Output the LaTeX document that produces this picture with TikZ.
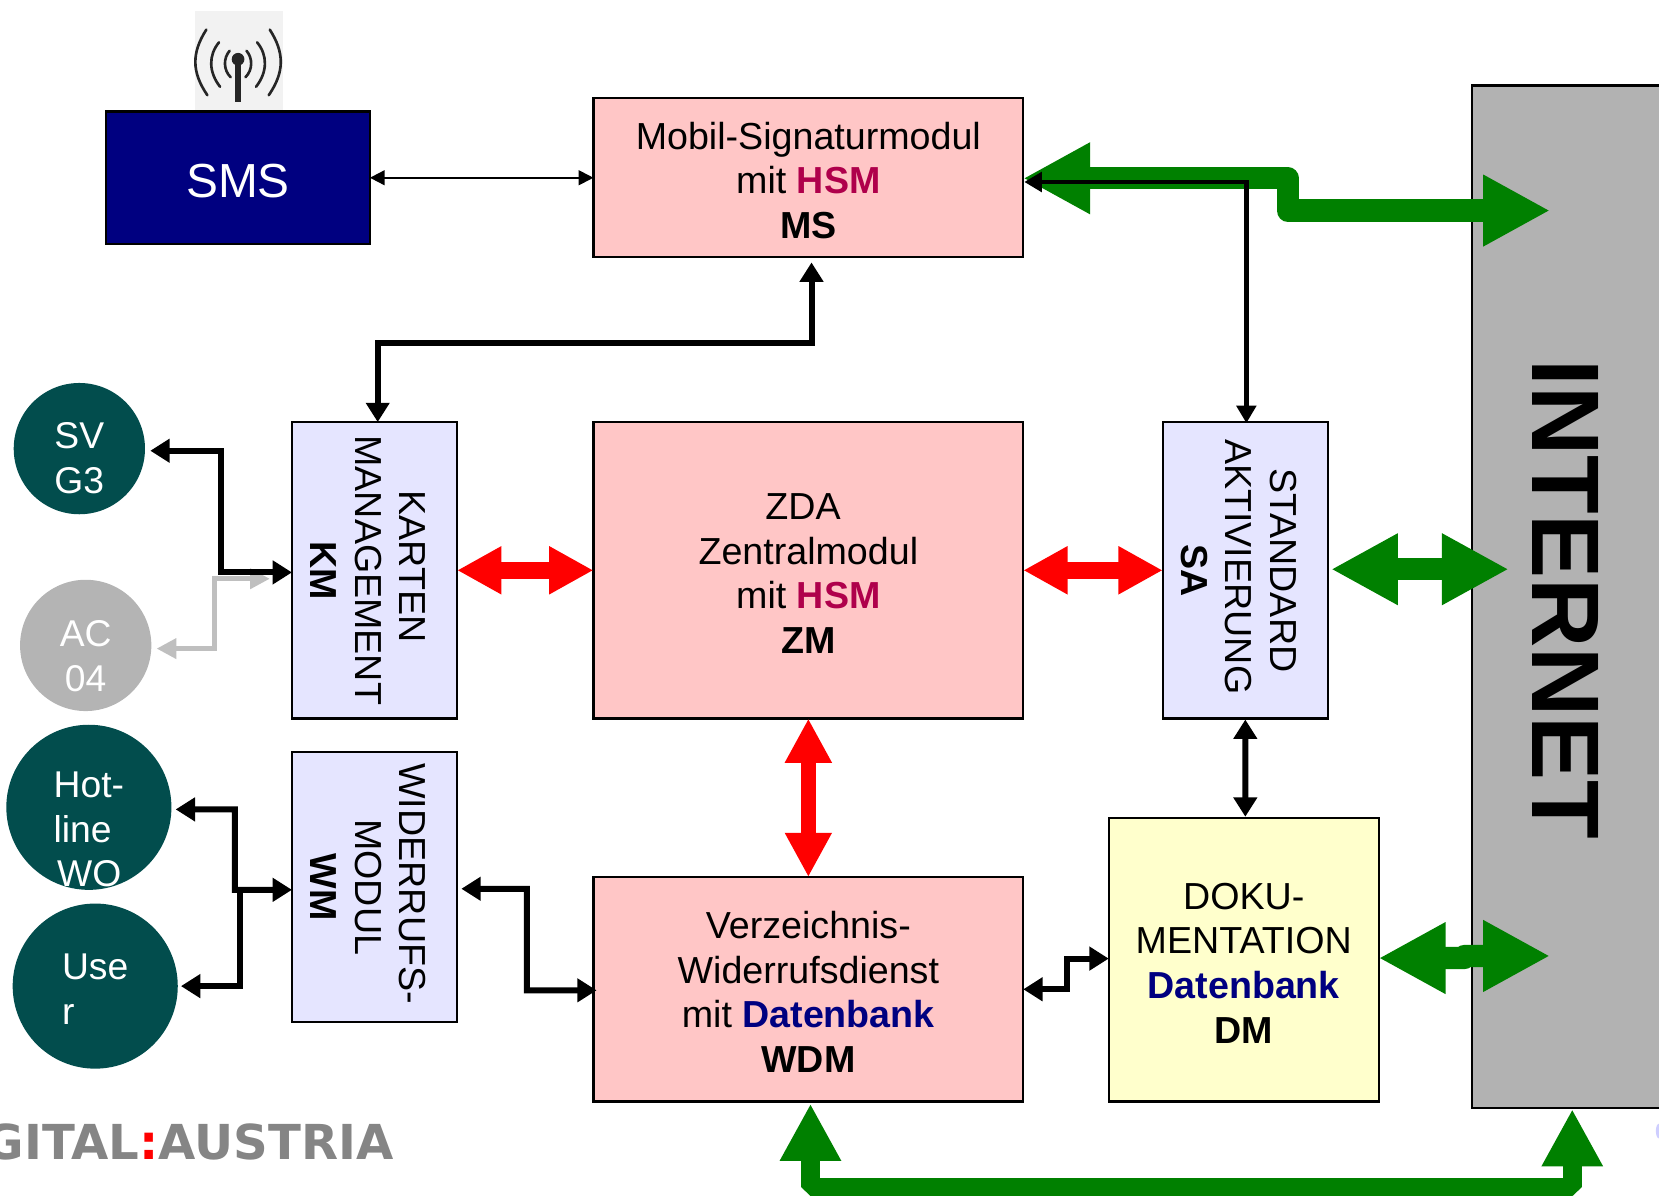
\documentclass[tikz,border=0pt]{standalone}
\usepackage{fontspec}
\setmainfont{Liberation Sans}
\newfontfamily\logofont{DejaVu Sans}
\usetikzlibrary{arrows.meta}
\definecolor{boxpink}{HTML}{FFC6C6}
\definecolor{boxlilac}{HTML}{E5E5FF}
\definecolor{boxyellow}{HTML}{FFFFCC}
\definecolor{smsblue}{HTML}{000080}
\definecolor{circteal}{HTML}{024D4D}
\definecolor{circgray}{HTML}{B4B4B4}
\definecolor{netgray}{HTML}{B2B2B2}
\definecolor{hsmred}{HTML}{AF004B}
\definecolor{arrowgreen}{HTML}{008000}
\definecolor{logogray}{HTML}{858585}
\newcommand{\flatgap}{\rule{0pt}{9.3pt}}
\newcommand{\sidegap}{\rule{0pt}{11.1pt}}
\tikzset{
	modbox/.style={draw=black,line width=0.65pt,outer sep=0pt,inner sep=0pt,align=center,font=\fontsize{10.7}{12.7}\selectfont},
	pinkbox/.style={modbox,fill=boxpink,minimum width=4.295cm},
	lilacbox/.style={modbox,fill=boxlilac,rotate=-90,minimum height=1.65cm},
	client/.style={circle,fill=circteal,inner sep=0pt,outer sep=0pt},
	clienttxt/.style={text=white,inner sep=0pt,font=\fontsize{10.6}{12.7}\selectfont},
	blackthin/.style={line width=0.55pt,{Triangle[length=4.2pt,width=4.2pt]}-{Triangle[length=4.2pt,width=4.2pt]}},
	blackmid/.style={line width=1.4pt,{Triangle[length=5pt,width=5.5pt]}-{Triangle[length=5pt,width=5.5pt]}},
	blackfat/.style={line width=1.7pt,{Triangle[length=5.5pt,width=6.5pt]}-{Triangle[length=5.5pt,width=6.5pt]}},
	blackone/.style={line width=1.7pt,{Triangle[length=5.5pt,width=6.5pt]}-},
	redfat/.style={draw=red,line width=5pt,{Triangle[length=12.6pt,width=12.8pt]}-{Triangle[length=12.6pt,width=12.8pt]}},
	redtall/.style={draw=red,line width=4.3pt,{Triangle[length=12.6pt,width=12.5pt]}-{Triangle[length=12.6pt,width=12.5pt]}},
	greenfat/.style={draw=arrowgreen,line width=6.3pt,line join=round,{Triangle[length=19pt,width=19pt]}-{Triangle[length=19pt,width=19pt]}},
	greenbus/.style={draw=arrowgreen,line width=5.3pt,line join=bevel,{Triangle[length=16.3pt,width=16.3pt]}-{Triangle[length=16.3pt,width=16.3pt]}},
	graythin/.style={draw=circgray!85!white,line width=1.3pt,{Triangle[length=5.6pt,width=5.6pt]}-{Triangle[length=5.6pt,width=5.6pt]}},
	antarc/.style={line width=0.75pt,draw=black!85,line cap=round}
}
\begin{document}
\begin{tikzpicture}[x=0.01058cm,y=-0.01058cm]
	\useasboundingbox (0,0) rectangle (1568,1131);
	% antenna
	\node[fill=black!5,minimum width=0.878cm,minimum height=1cm,inner sep=0pt] (antenna) at (225.5,57.5) {};
	\foreach \s in {-1,1} {
		\draw[antarc] (225+\s*30,28) .. controls (225+\s*44,50) and (225+\s*44,68) .. (225+\s*29,90);
		\draw[antarc] (225+\s*18,40) .. controls (225+\s*28,52) and (225+\s*28,68) .. (225+\s*17,82);
		\draw[antarc] (225+\s*8,48) .. controls (225+\s*14,55) and (225+\s*14,66) .. (225+\s*7,73);
	}
	\fill[black!85] (225,56) circle (6);
	\draw[line width=1.5pt,black!85] (225,56) -- (225,96);
	% modules
	\node[draw=black,line width=0.65pt,fill=smsblue,text=white,minimum width=2.635cm,minimum height=1.325cm,inner sep=0pt,outer sep=0pt,font=\fontsize{13.6}{16}\selectfont,execute at begin node={\rule{0pt}{11.5pt}}] (sms) at (225,168) {SMS};
	\node[pinkbox,minimum height=1.587cm] (ms) at (764,168) {\flatgap Mobil-Signaturmodul\\mit \textcolor{hsmred}{\textbf{HSM}}\\\textbf{MS}};
	\node[pinkbox,minimum height=2.962cm] (zm) at (764,539) {\flatgap ZDA~~\\Zentralmodul\\mit \textcolor{hsmred}{\textbf{HSM}}\\\textbf{ZM}};
	\node[pinkbox,minimum height=2.243cm] (wdm) at (764,935) {\flatgap Verzeichnis-\\Widerrufsdienst\\mit \textcolor{smsblue}{\textbf{Datenbank}}\\\textbf{WDM}};
	\node[lilacbox,minimum width=2.962cm] (km) at (354,539) {\sidegap KARTEN\kern2pt\\MANAGEMENT\\\textbf{KM}};
	\node[lilacbox,minimum width=2.698cm] (wm) at (354,838.5) {\sidegap WIDERRUFS-\kern2pt\\MODUL\\\textbf{WM}};
	\node[lilacbox,minimum width=2.962cm] (sa) at (1177,539) {\sidegap STANDARD\\AKTIVIERUNG\kern2pt\\\textbf{SA}};
	\node[modbox,fill=boxyellow,minimum width=2.698cm,minimum height=2.835cm] (dm) at (1175.5,907) {\flatgap DOKU-\\MENTATION\\\textcolor{smsblue}{\textbf{Datenbank}}\\\textbf{DM}};
	\node[draw=black,line width=0.65pt,fill=netgray,minimum width=2.4cm,minimum height=10.22cm,outer sep=0pt] (inet) at (1504.5,564) {};
	\node[rotate=-90,font=\fontsize{27.3}{30}\selectfont\bfseries] (inettext) at (1480,566.5) {INTERNET};
	% clients
	\node[client,minimum size=1.312cm] (sv) at (75,424) {};
	\node[client,fill=circgray,minimum size=1.312cm] (ac) at (81,610) {};
	\node[client,minimum size=1.65cm] (hot) at (84,763) {};
	\node[client,minimum size=1.65cm] (usr) at (90,932) {};
	\node[clienttxt,align=left] (svtxt) at (75,433) {SV\\G3};
	\node[clienttxt,align=center] (actxt) at (81,620) {AC\\04};
	\node[clienttxt,align=left] (hottxt) at (84,784) {Hot-\\line\\\kern1pt WO};
	\node[clienttxt,align=left] (usrtxt) at (90,935) {Use\\r};
	% logo
	\node[anchor=east,inner sep=0pt,font=\logofont\bfseries\fontsize{13.7}{16}\selectfont,text=logogray] (logo) at (372.5,1079.5) {GITAL\textcolor{red}{:}AUSTRIA};
	\fill[boxlilac!90!blue] (1568,1069) ellipse (3 and 7);
	% connectors
	\draw[greenfat] ([shift={(0,0.5)}]ms.east) -- (1217,168.5) -- (1217,199) -- (1465,199);
	\draw[greenfat] ([shift={(3,-1)}]sa.north) -- (1426,538);
	\draw[greenfat] ([shift={(0,-1.5)}]dm.east) -- (1384,905.5) -- (1384,903.5) -- (1465,903.5);
	\draw[greenbus] ([shift={(2,2)}]wdm.south) -- (766,1122) -- (1486,1122) -- ([shift={(-18.5,1)}]inet.south);
	\draw[redfat] (km.north) -- (zm.west);
	\draw[redfat] (zm.east) -- (sa.south);
	\draw[redtall] (zm.south) -- (wdm.north);
	\draw[blackthin] (sms) -- (ms);
	\draw[blackfat] ([shift={(3,5)}]ms.south) -- (767,324) -- (357,324) -- ([shift={(3,0)}]km.west);
	\draw[blackmid] ([shift={(1,4)}]ms.east) -- (1178,172) -- ([shift={(1,1)}]sa.west);
	\draw[graythin] ([shift={(5,3)}]ac.east) -- (203,613) -- (203,547) -- (255,547);
	\draw[blackfat] ([shift={(5,2)}]sv.east) -- (209,426) -- (209,541) -- ([shift={(0,2)}]km.south);
	\draw[blackfat] ([shift={(4,2)}]hot.east) -- (222,765) -- (222,841) -- ([shift={(0,2.5)}]wm.south);
	\draw[blackone] ([shift={(3,0)}]usr.east) -- (227,932) -- (227,841);
	\draw[blackfat] ([shift={(4,1.5)}]wm.north) -- (498,840) -- (498,936) -- ([shift={(3,1)}]wdm.west);
	\draw[blackfat] ([shift={(0,0)}]wdm.east) -- (1008,935) -- (1008,906) -- ([shift={(0,-1)}]dm.west);
	\draw[blackfat] ([shift={(0,1)}]sa.east) -- ([shift={(1.5,-1)}]dm.north);
\end{tikzpicture}
\end{document}
